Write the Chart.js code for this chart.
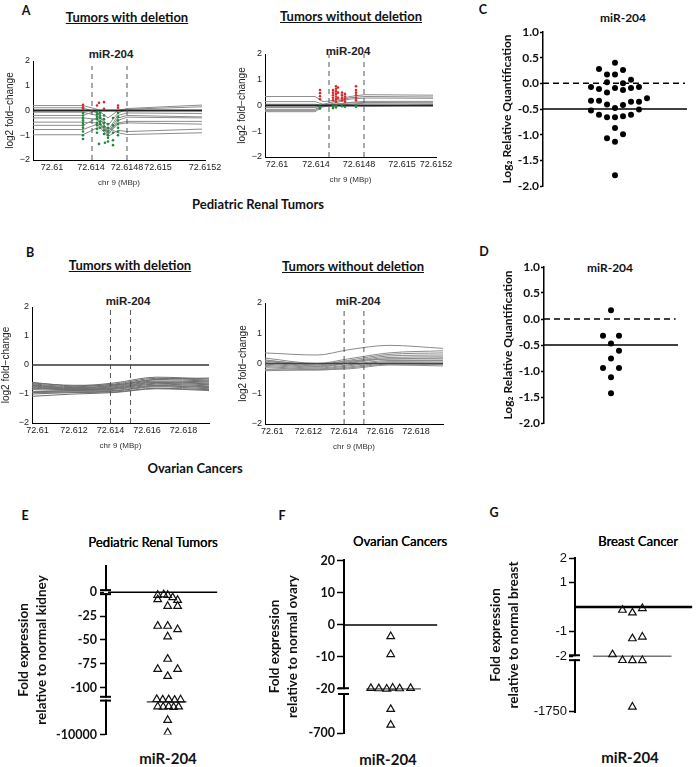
<!DOCTYPE html>
<html>
<head>
<meta charset="utf-8">
<script src="https://cdn.jsdelivr.net/npm/chart.js@4.4.1/dist/chart.umd.min.js"></script>
<style>
  body { margin: 0; background: #fff; width: 697px; height: 767px; position: relative; overflow: hidden; }
  canvas { position: absolute; }
  .t { position: absolute; white-space: nowrap; transform: translate(-50%, -50%); color: #111; }
  .let { font: bold 12.5px Lato, sans-serif; }
  .ttl { font: bold 13px Lato, sans-serif; text-decoration: underline; }
  .mir { font: bold 11.5px "Liberation Sans", Arial, sans-serif; color: #222; }
  .cap { font: bold 13px Lato, sans-serif; }
  .sub { font: 13px Lato, sans-serif; color: #000; text-shadow: 0.3px 0 0 #000; }
  .qt { font: bold 12px Lato, sans-serif; }
  .bot { font: bold 15px Lato, sans-serif; }
</style>
</head>
<body>
<div class="t let" style="left:26px;top:10px">A</div>
<div class="t ttl" style="left:127px;top:17px">Tumors with deletion</div>
<div class="t ttl" style="left:351px;top:16px">Tumors without deletion</div>
<div class="t mir" style="left:111px;top:54px">miR-204</div>
<div class="t mir" style="left:348px;top:51px">miR-204</div>
<div class="t cap" style="left:258px;top:204px">Pediatric Renal Tumors</div>

<div class="t let" style="left:30px;top:252px">B</div>
<div class="t ttl" style="left:130px;top:265px">Tumors with deletion</div>
<div class="t ttl" style="left:353px;top:266px">Tumors without deletion</div>
<div class="t mir" style="left:128px;top:301px">miR-204</div>
<div class="t mir" style="left:358px;top:301px">miR-204</div>
<div class="t cap" style="left:195px;top:468px">Ovarian Cancers</div>

<div class="t let" style="left:483px;top:9px">C</div>
<div class="t qt" style="left:623px;top:17px">miR-204</div>
<div class="t let" style="left:484px;top:251px">D</div>
<div class="t qt" style="left:610px;top:267px">miR-204</div>

<div class="t let" style="left:25px;top:515px">E</div>
<div class="t sub" style="left:153px;top:542px">Pediatric Renal Tumors</div>
<div class="t bot" style="left:168px;top:758px">miR-204</div>
<div class="t let" style="left:282px;top:515px">F</div>
<div class="t sub" style="left:400px;top:541px">Ovarian Cancers</div>
<div class="t bot" style="left:388px;top:759px">miR-204</div>
<div class="t let" style="left:494px;top:512px">G</div>
<div class="t sub" style="left:638px;top:541px">Breast Cancer</div>
<div class="t bot" style="left:630px;top:757px">miR-204</div>

<canvas id="aLeft"></canvas>
<canvas id="aRight"></canvas>
<canvas id="bLeft"></canvas>
<canvas id="bRight"></canvas>
<canvas id="cChart"></canvas>
<canvas id="dChart"></canvas>
<canvas id="eChart"></canvas>
<canvas id="fChart"></canvas>
<canvas id="gChart"></canvas>

<script>
// ---------- A: pediatric renal tumours (probe positions in plot units) ----------
const geneYTicks = [-2, -1, 0, 1, 2];

const aLeftTickPos = [19, 58, 94, 125, 172];
const aLeftTickLabels = ["72.61", "72.614", "72.6148", "72.615", "72.6152"];
const aLeftMir = [59, 94];
const aLeftPos = [0, 50, 64, 75, 85, 94, 169];
const aLeftLines = [
  [0.20, 0.20, 0.05, -0.30, 0.00, 0.08, 0.22],
  [0.11, 0.11, -0.10, -0.60, -0.10, 0.05, 0.15],
  [-0.07, -0.07, -0.20, -0.80, -0.20, -0.10, -0.12],
  [-0.20, -0.20, 0.00, -0.90, -0.30, -0.20, -0.26],
  [-0.30, -0.30, -0.35, -1.00, -0.40, -0.27, -0.30],
  [-0.47, -0.47, -0.50, -0.85, -0.50, -0.44, -0.44],
  [-0.60, -0.60, -0.30, -0.95, -0.55, -0.50, -0.55],
  [-0.77, -0.77, -0.55, -1.05, -0.80, -0.85, -0.75],
  [-0.98, -0.98, -0.70, -0.70, -0.90, -0.97, -0.90]
];
const aLeftRed = [[50, 0.23], [50, 0.13], [50, 0.07], [64, 0.20], [66, 0.31], [71, 0.34], [71, 0.07], [85, 0.20], [85, 0.11]];
const aLeftGreen = [
  [50, -0.1], [50, -0.2], [50, -0.3], [50, -0.4], [50, -0.5], [50, -0.6], [50, -0.7], [50, -0.85], [50, -1.0], [50, -1.15],
  [64, -0.05], [64, -0.15], [64, -0.25], [64, -0.35], [64, -0.5], [64, -0.6], [64, -0.75], [64, -0.9],
  [67, -0.1], [67, -0.2], [67, -0.3], [67, -0.45], [67, -0.55], [67, -0.7],
  [71, -0.2], [71, -0.35], [71, -0.5], [71, -0.65], [71, -0.8], [71, -0.95],
  [75, -0.55], [75, -0.7], [75, -0.85], [75, -1.0], [75, -1.1], [75, -1.25],
  [80, -0.3], [80, -0.6], [80, -0.9], [80, -1.2], [80, -1.4],
  [85, -0.1], [85, -0.25], [85, -0.4], [85, -0.55], [85, -0.7], [85, -0.85], [85, -1.0],
  [66, -1.35], [72, -1.3]
];

const aRightTickPos = [12, 51, 94, 137, 171];
const aRightTickLabels = ["72.61", "72.614", "72.6148", "72.615", "72.6152"];
const aRightMir = [64, 99];
const aRightPos = [0, 50, 58, 70, 85, 100, 168];
const aRightLines = [
  [0.35, 0.35, 0.15, 0.20, 0.35, 0.42, 0.40],
  [0.15, 0.15, 0.05, 0.15, 0.30, 0.35, 0.33],
  [-0.08, -0.08, 0.00, 0.10, 0.25, 0.29, 0.28],
  [-0.15, -0.15, 0.02, 0.05, 0.12, 0.16, 0.16],
  [-0.24, -0.24, -0.05, 0.00, 0.05, 0.09, 0.10],
  [-0.20, -0.20, 0.00, 0.02, 0.00, -0.02, 0.02],
  [0.05, 0.05, 0.00, 0.05, 0.10, 0.12, 0.10]
];
const aRightRed = [
  [55, 0.6], [55, 0.48], [55, 0.36], [55, 0.24],
  [68, 0.6], [68, 0.5], [68, 0.4], [68, 0.3], [68, 0.2],
  [71, 0.75], [71, 0.65], [71, 0.55], [71, 0.45], [71, 0.35], [71, 0.25], [71, 0.15],
  [73, 0.7], [73, 0.5], [73, 0.3],
  [77, 0.5], [77, 0.4], [77, 0.3], [77, 0.2],
  [80, 0.45], [80, 0.35], [80, 0.25], [80, 0.15],
  [91, 0.75], [91, 0.6], [91, 0.5], [91, 0.4], [91, 0.3], [91, 0.2]
];
const aRightGreen = [[55, -0.05], [55, -0.12], [68, -0.02], [68, -0.1], [71, 0.0], [71, -0.08], [77, -0.03], [80, -0.05], [91, 0.0], [91, -0.05]];

// ---------- B: ovarian cancers (chr 9 MBp) ----------
const bTickPos = [72.61, 72.612, 72.614, 72.616, 72.618];
const bTickLabels = ["72.61", "72.612", "72.614", "72.616", "72.618"];
const bMir = [72.614, 72.6151];
const bLeftPos = [72.6097, 72.612, 72.6142, 72.6165, 72.6194];
const bLeftLines = [
  [-0.60, -0.72, -0.62, -0.42, -0.48],
  [-0.65, -0.75, -0.66, -0.46, -0.52],
  [-0.68, -0.78, -0.70, -0.50, -0.55],
  [-0.70, -0.80, -0.72, -0.55, -0.58],
  [-0.72, -0.82, -0.75, -0.58, -0.62],
  [-0.75, -0.84, -0.78, -0.60, -0.65],
  [-0.78, -0.85, -0.80, -0.63, -0.68],
  [-0.80, -0.86, -0.82, -0.66, -0.72],
  [-0.85, -0.88, -0.84, -0.70, -0.75],
  [-0.92, -0.90, -0.88, -0.72, -0.78],
  [-0.95, -0.93, -0.90, -0.75, -0.82],
  [-1.00, -0.95, -0.93, -0.80, -0.85],
  [-1.08, -1.00, -0.95, -0.82, -0.88],
  [-0.62, -0.70, -0.68, -0.50, -0.45]
];
const bRightPos = [72.6096, 72.6125, 72.6142, 72.6165, 72.6195];
const bRightLines = [
  [0.35, 0.28, 0.45, 0.60, 0.50],
  [0.18, 0.00, 0.15, 0.35, 0.42],
  [0.12, -0.05, 0.10, 0.30, 0.35],
  [0.08, -0.08, 0.05, 0.25, 0.28],
  [0.03, -0.10, 0.02, 0.20, 0.22],
  [-0.02, -0.12, 0.00, 0.15, 0.15],
  [-0.06, -0.15, -0.05, 0.10, 0.10],
  [-0.10, -0.18, -0.08, 0.06, 0.05],
  [-0.14, -0.20, -0.12, 0.02, 0.00],
  [-0.20, -0.22, -0.15, -0.02, -0.03],
  [-0.24, -0.20, -0.18, -0.05, -0.08],
  [0.10, -0.02, 0.08, 0.15, 0.18]
];

// ---------- C / D: qPCR log2 relative quantification ----------
const cdYTicks = [-2, -1.5, -1, -0.5, 0, 0.5, 1];
const cCols = [0, -2, 1, -1, 0, 2, -1, 1, -3, -2, -1, 0, 1, 2, 3, 4, -3, -2, -1, 1, 2, 3, 0, -3, 3, -2, -1, 0, 1, 2, 0, -1, 1, 0, 0];
const cValues = [0.40, 0.28, 0.26, 0.17, 0.17, 0.07, 0.02, 0.00, -0.07, -0.11, -0.18, -0.09, -0.13, -0.09, -0.07, -0.29,
  -0.34, -0.34, -0.41, -0.42, -0.36, -0.36, -0.48, -0.53, -0.51, -0.61, -0.66, -0.66, -0.64, -0.61, -0.87, -1.07, -0.99, -1.14, -1.79];
const dCols = [0, -1, 1, 0, 1, 0, -1, 1, 0, 0];
const dValues = [0.17, -0.32, -0.32, -0.47, -0.61, -0.76, -0.94, -0.94, -1.12, -1.43];

// ---------- E / F / G: fold expression with broken axes ----------
const eTicks = [0, -25, -50, -75, -100, -10000];
const eTickLabels = ["0", "-25", "-50", "-75", "-100", "-10000"];
const eCols = [-1, -0.4, 0, 0.5, -1, 1, 0, 1, -1, 0, 1, 0, 0, -1, 1, 0, -1.1, -0.5, 0.1, 0.7, 1.3, -1, -0.45, 0.1, 0.6, 1.1, 0, 0];
const eValues = [-3, -2.4, -3, -5.5, -7.6, -8.3, -14.6, -14.6, -35.4, -35.4, -38.9, -46.5, -70, -80.6, -80.6, -88,
  -115, -122, -118, -125, -119, -290, -300, -285, -310, -295, -1630, -7900];
const eMedian = -160;

const fTicks = [20, 10, 0, -10, -20, -700];
const fTickLabels = ["20", "10", "0", "-10", "-20", "-700"];
const fCols = [0, 0, -2, -1.2, -0.4, 0.2, 0.9, 2, 0, 0];
const fValues = [-3.6, -9.2, -19.8, -19.9, -20, -19.7, -19.9, -19.8, -76, -330];
const fMedian = -20;

const gTicks = [2, 1, -1, -2, -1750];
const gTickLabels = ["2", "1", "-1", "-2", "-1750"];
const gCols = [-1, 0, 1, 0, 1, -2, -1, 0, 1, 0];
const gValues = [-0.12, -0.23, -0.05, -1.28, -1.21, -1.93, -2.04, -2.06, -2.05, -990];
const gMedian = -2;

// piecewise axes: linear part, then a log part below the break
function mapE(v) { return v >= -100 ? v : -111 - (Math.log10(-v) - 2) * 19; }
function mapF(v) { return v >= -20 ? v : -21.9 - (Math.log10(-v) - Math.log10(20)) / Math.log10(35) * 11.9; }
function mapG(v) { return v >= -2 ? v : -2.16 - (Math.log10(-v) - Math.log10(2)) / Math.log10(875) * 2.08; }

const FONT_M = "'Liberation Sans', Arial, sans-serif";
const FONT_C = "Lato, 'Open Sans', sans-serif";

function place(id, left, top, w, h) {
  const c = document.getElementById(id);
  c.width = w;
  c.height = h;
  c.style.left = left + "px";
  c.style.top = top + "px";
  c.style.width = w + "px";
  c.style.height = h + "px";
  return c.getContext("2d");
}

function seg(x0, x1, y) {
  return [{ x: x0, y: y }, { x: x1, y: y }];
}

function lineSets(pos, lines, color, smooth) {
  return lines.map((vals) => ({
    data: vals.map((v, i) => ({ x: pos[i], y: v })),
    showLine: true,
    borderColor: color,
    borderWidth: 1,
    pointRadius: 0,
    cubicInterpolationMode: smooth ? "monotone" : "default"
  }));
}

function dots(pairs, color) {
  return {
    data: pairs.map((p) => ({ x: p[0], y: p[1] })),
    pointRadius: 1.3,
    backgroundColor: color,
    borderWidth: 0
  };
}

function mirLines(mir, top) {
  return mir.map((m) => ({
    data: [{ x: m, y: -2 }, { x: m, y: top }],
    showLine: true,
    borderColor: "#555",
    borderWidth: 1,
    borderDash: [5, 4],
    pointRadius: 0
  }));
}

// MATLAB style fold-change panels (A, B)
function geneChart(id, g, x, sets) {
  const left = g.L - 33;
  const top = g.T - 10;
  const ctx = place(id, left, top, g.R + 20 - left, g.B + 28 - top);
  return new Chart(ctx, {
    type: "scatter",
    data: { datasets: sets },
    options: {
      responsive: false,
      animation: false,
      events: [],
      layout: { padding: { top: 10, right: 20, left: 0, bottom: 0 } },
      plugins: { legend: { display: false }, tooltip: { enabled: false } },
      scales: {
        x: {
          type: "linear",
          min: x.min,
          max: x.max,
          afterBuildTicks: (s) => { s.ticks = x.ticks.map((v) => ({ value: v })); },
          afterFit: (s) => { s.height = 28; },
          ticks: {
            autoSkip: false, maxRotation: 0, padding: 2, color: "#222",
            font: { family: FONT_M, size: 9 },
            callback: (v, i) => x.labels[i]
          },
          grid: { display: false, drawTicks: false },
          border: { color: "#000", width: 1 },
          title: { display: true, text: "chr 9 (MBp)", color: "#333", font: { family: FONT_M, size: 8 }, padding: 0 }
        },
        y: {
          min: -2,
          max: 2,
          afterBuildTicks: (s) => { s.ticks = geneYTicks.map((v) => ({ value: v })); },
          afterFit: (s) => { s.width = 33; },
          ticks: {
            padding: 3, color: "#222", font: { family: FONT_M, size: 9 },
            callback: (v) => (v < 0 ? "\u2212" + (-v) : String(v))
          },
          grid: { display: false, drawTicks: false },
          border: { color: "#000", width: 1 },
          title: {
            display: true, text: "log2 fold\u2212change", color: "#222",
            font: { family: FONT_M, size: 10 }, padding: { top: g.tp, bottom: 0 }
          }
        }
      }
    }
  });
}

function zeroLine(x0, x1, color, width) {
  return { data: seg(x0, x1, 0), showLine: true, borderColor: color, borderWidth: width, pointRadius: 0 };
}

geneChart("aLeft", { L: 33, T: 61, R: 205, B: 160, tp: 4 },
  { min: 0, max: 172, ticks: aLeftTickPos, labels: aLeftTickLabels },
  [dots(aLeftRed, "#d62a2a"), dots(aLeftGreen, "#1f8a3c")]
    .concat(mirLines(aLeftMir, 1.8))
    .concat([zeroLine(0, 169, "#222", 2)])
    .concat(lineSets(aLeftPos, aLeftLines, "#8c8c8c", false)));

geneChart("aRight", { L: 265, T: 54, R: 436, B: 157, tp: 4 },
  { min: 0, max: 171, ticks: aRightTickPos, labels: aRightTickLabels },
  [dots(aRightRed, "#d62a2a"), dots(aRightGreen, "#1f8a3c")]
    .concat(mirLines(aRightMir, 2))
    .concat([zeroLine(0, 168, "#222", 2)])
    .concat(lineSets(aRightPos, aRightLines, "#8c8c8c", false)));

geneChart("bLeft", { L: 32, T: 307, R: 209, B: 423, tp: 1 },
  { min: 72.6097, max: 72.6194, ticks: bTickPos, labels: bTickLabels },
  mirLines(bMir, 1.9)
    .concat([zeroLine(72.6097, 72.6194, "#333", 1.5)])
    .concat(lineSets(bLeftPos, bLeftLines, "#6e6e6e", true)));

geneChart("bRight", { L: 265, T: 303, R: 443, B: 424, tp: 5 },
  { min: 72.6096, max: 72.6195, ticks: bTickPos, labels: bTickLabels },
  mirLines(bMir, 1.85)
    .concat([zeroLine(72.6096, 72.6195, "#444", 1.3)])
    .concat(lineSets(bRightPos, bRightLines, "#8a8a8a", true)));

// qPCR dot plots (C, D)
function quantChart(id, g, cols, vals) {
  const left = g.L - 50;
  const top = g.T - 10;
  const ctx = place(id, left, top, g.R + 5 - left, g.B + 10 - top);
  const black = { showLine: true, borderColor: "#000", borderWidth: 1.5, pointRadius: 0 };
  return new Chart(ctx, {
    type: "scatter",
    data: {
      datasets: [
        { data: cols.map((c, i) => ({ x: c, y: vals[i] })), pointRadius: 3, backgroundColor: "#000", borderWidth: 0 },
        Object.assign({ data: seg(g.xMin, g.dashEnd, 0), borderDash: [6, 4] }, black),
        Object.assign({ data: seg(g.xMin, g.xMax, -0.5) }, black)
      ]
    },
    options: {
      responsive: false,
      animation: false,
      events: [],
      layout: { padding: { top: 10, right: 5, left: 0, bottom: 10 } },
      plugins: { legend: { display: false }, tooltip: { enabled: false } },
      scales: {
        x: { type: "linear", display: false, min: g.xMin, max: g.xMax },
        y: {
          min: -2,
          max: 1,
          afterBuildTicks: (s) => { s.ticks = cdYTicks.map((v) => ({ value: v })); },
          afterFit: (s) => { s.width = 50; },
          ticks: { padding: 1, color: "#111", font: { family: FONT_C, size: 12, weight: "bold" }, callback: (v) => v.toFixed(1) },
          grid: { display: true, drawOnChartArea: false, drawTicks: true, tickLength: 3, tickColor: "#000", tickWidth: 1.5 },
          border: { color: "#000", width: 1.5 },
          title: {
            display: true, text: "Log\u2082 Relative Quantification", color: "#111",
            font: { family: FONT_C, size: 12, weight: "bold" }, padding: { top: 7, bottom: 0 }
          }
        }
      }
    }
  });
}

quantChart("cChart", { L: 543, T: 32, R: 687, B: 186, xMin: -9, xMax: 9, dashEnd: 8.75 }, cCols, cValues);
quantChart("dChart", { L: 544, T: 267, R: 678, B: 423, xMin: -8.4, xMax: 8.4, dashEnd: 8.1 }, dCols, dValues);

// axis break marks drawn over the y axis
const axisBreak = {
  id: "axisBreak",
  afterDraw(chart, args, opts) {
    const ys = chart.scales.y;
    const x0 = chart.chartArea.left;
    const ctx = chart.ctx;
    (opts.at || []).forEach((pair) => {
      const y1 = ys.getPixelForValue(pair[0]);
      const y2 = ys.getPixelForValue(pair[1]);
      ctx.save();
      ctx.fillStyle = "#fff";
      ctx.fillRect(x0 - 2, y1 + 1, 4, y2 - y1 - 2);
      ctx.strokeStyle = "#000";
      ctx.lineWidth = 2;
      [y1, y2].forEach((yy) => {
        ctx.beginPath();
        ctx.moveTo(x0 - 6, yy);
        ctx.lineTo(x0 + 5, yy);
        ctx.stroke();
      });
      ctx.restore();
    });
  }
};

// fold expression triangle plots (E, F, G)
function foldChart(id, g) {
  const left = g.L - g.yw;
  const top = g.T - 10;
  const ctx = place(id, left, top, g.R + 5 - left, g.B + 10 - top);
  return new Chart(ctx, {
    type: "scatter",
    data: {
      datasets: [
        {
          data: g.cols.map((c, i) => ({ x: c, y: g.map(g.vals[i]) })),
          pointStyle: "triangle", pointRadius: 4.4,
          backgroundColor: "rgba(255,255,255,0)", borderColor: "#111", borderWidth: 1.2
        },
        { data: seg(g.xMin, g.xMax, 0), showLine: true, borderColor: "#000", borderWidth: g.zeroW, pointRadius: 0 },
        { data: seg(g.medX[0], g.medX[1], g.map(g.median)), showLine: true, borderColor: g.medColor, borderWidth: 1.3, pointRadius: 0 }
      ]
    },
    options: {
      responsive: false,
      animation: false,
      events: [],
      layout: { padding: { top: 10, right: 5, left: 0, bottom: 10 } },
      plugins: { legend: { display: false }, tooltip: { enabled: false }, axisBreak: { at: g.breaks } },
      scales: {
        x: { type: "linear", display: false, min: g.xMin, max: g.xMax },
        y: {
          min: g.yMin,
          max: g.yMax,
          afterBuildTicks: (s) => { s.ticks = g.ticks.map((v) => ({ value: g.map(v) })); },
          afterFit: (s) => { s.width = g.yw; },
          ticks: { autoSkip: false, padding: g.tpad, color: "#111", font: g.tickFont, callback: (v, i) => g.labels[i] },
          grid: { display: true, drawOnChartArea: false, drawTicks: true, tickLength: g.tl, tickColor: "#000", tickWidth: 1.5 },
          border: { color: "#000", width: 2 },
          title: {
            display: true, text: g.title, color: "#111",
            font: { family: FONT_C, size: 13.5, weight: "bold", lineHeight: 1.3 }, padding: { top: g.titlePad, bottom: 0 }
          }
        }
      }
    },
    plugins: [axisBreak]
  });
}

const boldTicks = { family: FONT_C, size: 12.5, weight: "bold" };

foldChart("eChart", {
  L: 106, T: 565, R: 218, B: 735, yw: 96, yMin: -149, yMax: 28, xMin: -6.2, xMax: 5,
  map: mapE, ticks: eTicks, labels: eTickLabels, tickFont: boldTicks, tl: 6, tpad: 3,
  cols: eCols, vals: eValues, median: eMedian, medX: [-2.1, 1.9], medColor: "#333", zeroW: 1.5,
  breaks: [[2.2, -2.0], [-109.5, -113.5]], title: ["Fold expression", "relative to normal kidney"], titlePad: 5
});

foldChart("fChart", {
  L: 344, T: 560, R: 438, B: 733, yw: 94, yMin: -33.8, yMax: 20.3, xMin: -4.7, xMax: 4.7,
  map: mapF, ticks: fTicks, labels: fTickLabels, tickFont: boldTicks, tl: 7, tpad: 2,
  cols: fCols, vals: fValues, median: fMedian, medX: [-2.45, 3.05], medColor: "#555", zeroW: 1.5,
  breaks: [[-19.8, -21.6]], title: ["Fold expression", "relative to normal ovary"], titlePad: 16
});

foldChart("gChart", {
  L: 575, T: 558, R: 693, B: 712, yw: 95, yMin: -4.27, yMax: 2, xMin: -5.77, xMax: 6.03,
  map: mapG, ticks: gTicks, labels: gTickLabels, tickFont: { family: FONT_M, size: 13 }, tl: 6, tpad: 2,
  cols: gCols, vals: gValues, median: gMedian, medX: [-3.97, 3.93], medColor: "#777", zeroW: 2.5,
  breaks: [[-1.96, -2.16]], title: ["Fold expression", "relative to normal breast"], titlePad: 7
});
</script>
</body>
</html>
